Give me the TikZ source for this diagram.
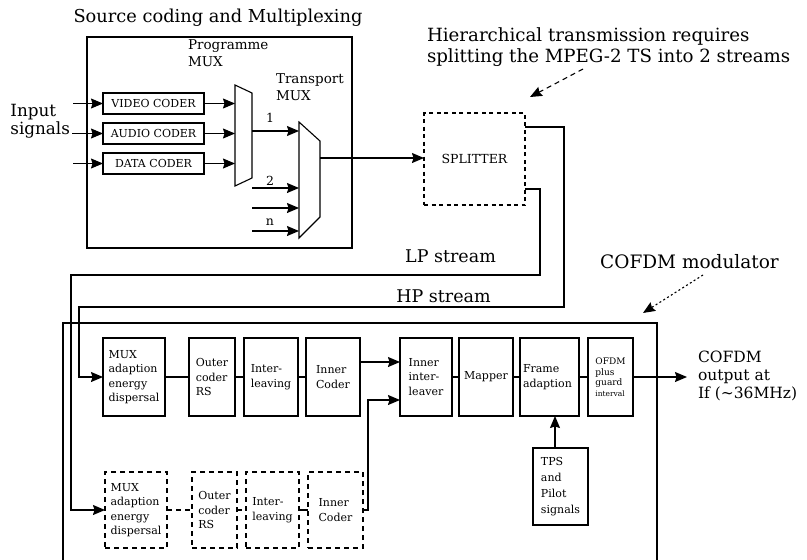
\documentclass[tikz,border=0pt]{standalone}
\usepackage{fontspec}
\setmainfont{DejaVu Serif}
\usetikzlibrary{arrows.meta,calc}
\begin{document}
\begin{tikzpicture}[x=1pt,y=-1pt,
  every node/.style={inner sep=0pt, outer sep=0pt},
  ln/.style={line width=1.1pt},
  blk/.style={draw, ln, align=left, font=\fontsize{11}{14.5}\selectfont, inner sep=2pt},
  dblk/.style={blk, dash pattern=on 5pt off 4pt},
  coder/.style={draw, ln, minimum width=101pt, minimum height=21pt, font=\fontsize{11}{13}\selectfont},
  arr/.style={-{Stealth[length=12pt,width=10pt,inset=1.5pt]}, ln},
  big/.style={font=\fontsize{17.5}{20}\selectfont, align=left},
  small/.style={font=\fontsize{13.5}{17}\selectfont, align=left},
]
\useasboundingbox (0,0) rectangle (807,560);

% ---------- Source coding and multiplexing ----------
\node[draw, ln, minimum width=265pt, minimum height=211pt] (src) at (219.5,142.5) {};
\node[big, font=\fontsize{17.8}{20}\selectfont] (srct) at (218,18) {Source coding and Multiplexing};

\node[coder] (vid) at (153.5,103.5) {VIDEO CODER};
\node[coder] (aud) at (153.5,133.5) {AUDIO CODER};
\node[coder] (dat) at (153.5,163.5) {DATA CODER};

\node[big, font=\fontsize{16.8}{18.5}\selectfont, anchor=east] (inp) at (70,121) {Input\\signals};
\coordinate (i1) at (73,103.5);
\coordinate (i2) at (72,133.5);
\coordinate (i3) at (73,163.5);
\draw[arr] (i1) -- (vid.west);
\draw[arr] (i2) -- (aud.west);
\draw[arr] (i3) -- (dat.west);

% programme mux
\draw[ln] (235,85) -- (252,93) -- (252,178) -- (235,186) -- cycle;
\coordinate (pmL) at (235,135);
\coordinate (pmR) at (252,131);
\draw[arr] (vid.east) -- (vid.east -| pmL);
\draw[arr] (aud.east) -- (aud.east -| pmL);
\draw[arr] (dat.east) -- (dat.east -| pmL);
\node[small, anchor=north west] (pmt) at (188,40) {Programme\\MUX};

% transport mux
\draw[ln] (299,122) -- (320,141) -- (320,217) -- (299,238) -- cycle;
\coordinate (tmL) at (299,180);
\coordinate (tmR) at (320,158);
\draw[arr] (pmR) -- (pmR -| tmL);
\node[small, font=\fontsize{12.5}{15}\selectfont] (one) at (270,118) {1};
\coordinate (t2) at (252,188);
\coordinate (t3) at (252,208);
\coordinate (tn) at (252,231);
\draw[arr] (t2) -- (t2 -| tmL);
\draw[arr] (t3) -- (t3 -| tmL);
\draw[arr] (tn) -- (tn -| tmL);
\node[small, font=\fontsize{12.5}{15}\selectfont] (two) at (270,181) {2};
\node[small, font=\fontsize{12.5}{15}\selectfont] (enn) at (270,222) {n};
\node[small, anchor=north west] (tmt) at (276,74) {Transport\\MUX};

% ---------- splitter ----------
\node[dblk, dash pattern=on 4pt off 3.5pt, minimum width=101pt, minimum height=92pt,
      font=\fontsize{12.5}{14}\selectfont, align=center] (spl) at (474.5,159) {SPLITTER};
\draw[arr] (tmR) -- (tmR -| spl.west);

\node[big, font=\fontsize{18.2}{20.5}\selectfont, anchor=west] (hier) at (427,47) {Hierarchical transmission requires\\splitting the MPEG-2 TS into 2 streams};
\coordinate (h1) at (583,69);
\coordinate (h2) at (530,97);
\draw[arr, dash pattern=on 5pt off 4pt] (h1) -- (h2);

\coordinate (yhp) at (0,127);
\coordinate (ylp) at (0,189);
\coordinate (hpc) at (79,307);
\coordinate (lpc) at (71,275);
\node[big] (lpt) at (450.5,256) {LP stream};
\node[big] (hpt) at (443.5,296) {HP stream};

% ---------- COFDM modulator ----------
\draw[ln] (63,565) -- (63,323) -- (657,323) -- (657,565);
\node[big, font=\fontsize{18.5}{20}\selectfont] (cofdmt) at (689.5,262) {COFDM modulator};
\coordinate (c1) at (703,275);
\coordinate (c2) at (643,313);
\draw[arr, dash pattern=on 2pt off 2.5pt] (c1) -- (c2);

\node[blk, minimum width=62pt, minimum height=78pt] (mux1) at (134,377) {MUX\\adaption\\energy\\dispersal};
\node[blk, minimum width=46pt, minimum height=78pt] (outer1) at (212,377) {Outer\\coder\\RS};
\node[blk, minimum width=54pt, minimum height=78pt] (inter1) at (271,377) {Inter-\\leaving};
\node[blk, minimum width=54pt, minimum height=78pt] (inner1) at (333,377) {Inner\\Coder};
\node[blk, minimum width=52pt, minimum height=78pt] (iil) at (426,377) {Inner\\inter-\\leaver};
\node[blk, minimum width=54pt, minimum height=78pt] (mapper) at (486,377) {Mapper};
\node[blk, minimum width=59pt, minimum height=78pt, text width=53pt] (frame) at (549.5,377) {Frame\\adaption\\[4pt]};
\node[blk, minimum width=45pt, minimum height=78pt, font=\fontsize{9}{10.5}\selectfont] (ofdm) at (610.5,377) {OFDM\\plus\\guard\\{\fontsize{7.5}{9}\selectfont interval}};
\node[blk, minimum width=55pt, minimum height=77pt, font=\fontsize{11}{16}\selectfont] (tps) at (560.5,486.5) {TPS\\and\\Pilot\\signals};

\draw[ln] (mux1) -- (outer1);
\draw[ln] (outer1) -- (inter1);
\draw[ln] (inter1) -- (inner1);
\draw[ln] (iil) -- (mapper);
\draw[ln] (mapper) -- (frame);
\draw[ln] (frame) -- (ofdm);

\coordinate (ya) at (0,362);
\coordinate (yb) at (0,400);
\draw[arr] (inner1.east |- ya) -- (iil.west |- ya);
\draw[arr] ([xshift=-5.5pt]tps.north) -- ([xshift=-5.5pt]tps.north |- frame.south);

\node[dblk, minimum width=62pt, minimum height=76pt] (dmux) at (136,510) {MUX\\adaption\\energy\\dispersal};
\node[dblk, minimum width=45pt, minimum height=76pt] (douter) at (214.5,510) {Outer\\coder\\RS};
\node[dblk, minimum width=53pt, minimum height=76pt] (dinter) at (272.5,510) {Inter-\\leaving};
\node[dblk, minimum width=55pt, minimum height=76pt] (dinner) at (335.5,510) {Inner\\Coder};
\draw[ln, dash pattern=on 5pt off 4pt] (dmux) -- (douter);
\draw[ln, dash pattern=on 5pt off 4pt] (douter) -- (dinter);
\draw[ln] (dinter) -- (dinner);
\draw[arr] (dinner.east) -- ++(5,0) |- (iil.west |- yb);

% splitter outputs
\draw[arr] (spl.east |- yhp) -- ++(39,0) |- (hpc) |- (mux1.west);
\draw[arr] (spl.east |- ylp) -- ++(15,0) |- (lpc) |- (dmux.west);

% output
\coordinate (outp) at (687,377);
\draw[arr] (ofdm.east) -- (outp);
\node[big, font=\fontsize{15.5}{18}\selectfont, anchor=west] (cout) at (698,376) {COFDM\\output at\\If (\textasciitilde36MHz)};
\end{tikzpicture}
\end{document}
